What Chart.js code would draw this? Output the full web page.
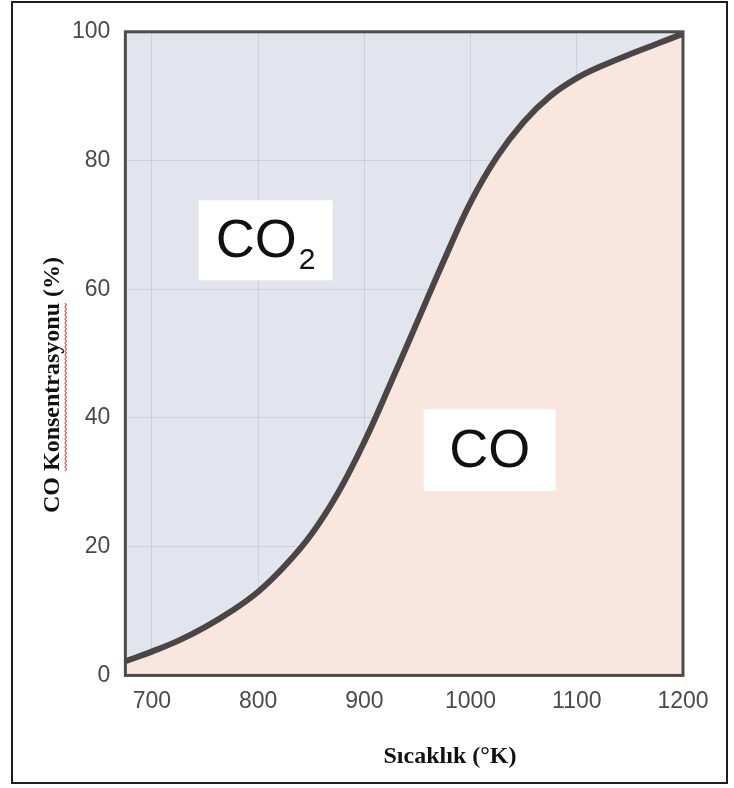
<!DOCTYPE html>
<html>
<head>
<meta charset="utf-8">
<script src="https://cdn.jsdelivr.net/npm/chart.js@4.4.1/dist/chart.umd.min.js"></script>
<style>
    body { margin: 0; background: #fff; }
    #frame {
        position: absolute; left: 11px; top: 1px;
        width: 713px; height: 779px;
        border: 2px solid #1e1e1e;
    }
    #frame canvas { display: block; }
</style>
</head>
<body>
<div id="frame"><canvas id="chart" width="713" height="779"></canvas></div>
<script>
// sıcaklık (K) ve CO konsantrasyonu (%)
const temps = [675, 700, 725, 750, 775, 800, 825, 850, 875, 900, 925, 950, 975, 1000, 1025, 1050, 1075, 1100, 1125, 1150, 1175, 1200];
const coValues = [2.2, 3.7, 5.4, 7.5, 10.0, 13.0, 17.0, 21.9, 28.3, 36.3, 45.5, 55.0, 64.5, 73.5, 80.6, 86.0, 90.0, 92.8, 94.8, 96.5, 98.1, 99.7];
const xTicks = [700, 800, 900, 1000, 1100, 1200];
const yTicks = [0, 20, 40, 60, 80, 100];

// bölge etiketleri (veri koordinatlarında)
const regionLabels = [
    { main: 'CO', sub: '2', x: 807, y: 67.6, w: 134, h: 80 },
    { main: 'CO', sub: '', x: 1018, y: 35, w: 132, h: 82 },
];

const xTitle = 'Sıcaklık (°K)';
const yTitle = 'CO Konsentrasyonu (%)';

const TICK_FONT = "'Liberation Sans', Arial, sans-serif";
const TITLE_FONT = "'Liberation Serif', 'Times New Roman', serif";

// ── çizim alanı arka planı ve çerçeve ──
const areaPlugin = {
    id: 'areaPlugin',
    beforeDraw(chart) {
        const { ctx, chartArea: a } = chart;
        ctx.save();
        ctx.fillStyle = '#e2e5ee';
        ctx.fillRect(a.left, a.top, a.right - a.left, a.bottom - a.top);
        ctx.restore();
    },
    afterDraw(chart) {
        const { ctx, chartArea: a, scales } = chart;
        ctx.save();
        // çerçeve
        ctx.strokeStyle = '#4d4a4a';
        ctx.lineWidth = 3;
        ctx.strokeRect(a.left, a.top, a.right - a.left, a.bottom - a.top);

        // CO2 / CO kutuları
        regionLabels.forEach(l => {
            const cx = scales.x.getPixelForValue(l.x);
            const cy = scales.y.getPixelForValue(l.y);
            ctx.fillStyle = '#ffffff';
            ctx.fillRect(cx - l.w / 2, cy - l.h / 2, l.w, l.h);
            ctx.fillStyle = '#111';
            ctx.textBaseline = 'middle';
            ctx.font = "54px " + TICK_FONT;
            const mw = ctx.measureText(l.main).width;
            ctx.font = "30px " + TICK_FONT;
            const sw = l.sub ? ctx.measureText(l.sub).width + 2 : 0;
            const x0 = cx - (mw + sw) / 2;
            ctx.font = "54px " + TICK_FONT;
            ctx.textAlign = 'left';
            ctx.fillText(l.main, x0, cy + 2);
            if (l.sub) {
                ctx.font = "30px " + TICK_FONT;
                ctx.fillText(l.sub, x0 + mw + 2, cy + 20);
            }
        });

        // eksen başlıkları
        ctx.fillStyle = '#111';
        ctx.font = "bold 24px " + TITLE_FONT;
        ctx.textAlign = 'center';
        ctx.textBaseline = 'middle';
        ctx.fillText(xTitle, 437, 754);

        ctx.translate(40, 382);
        ctx.rotate(-Math.PI / 2);
        ctx.fillText(yTitle, 0, 0);
        // yazım denetimi alt çizgisi
        const full = ctx.measureText(yTitle).width;
        const pre = ctx.measureText('CO ').width;
        const word = ctx.measureText('Konsentrasyonu').width;
        const sx = -full / 2 + pre;
        ctx.strokeStyle = '#e0505a';
        ctx.lineWidth = 1.2;
        ctx.beginPath();
        for (let i = 0; i <= word; i += 2) {
            const yy = 12 + (i % 4 === 0 ? 0 : 1.5);
            if (i === 0) ctx.moveTo(sx + i, yy); else ctx.lineTo(sx + i, yy);
        }
        ctx.stroke();
        ctx.restore();
    },
};

new Chart(document.getElementById('chart'), {
    type: 'line',
    data: {
        labels: temps,
        datasets: [{
            data: temps.map((t, i) => ({ x: t, y: coValues[i] })),
            borderColor: '#4b4545',
            borderWidth: 6,
            pointRadius: 0,
            tension: 0.4,
            fill: 'origin',
            backgroundColor: '#f9e6df',
        }],
    },
    options: {
        responsive: false,
        animation: false,
        layout: { padding: { left: 44, right: 43, top: 26, bottom: 55 } },
        plugins: { legend: { display: false }, tooltip: { enabled: false } },
        scales: {
            x: {
                type: 'linear',
                min: 675,
                max: 1200,
                afterBuildTicks: s => { s.ticks = xTicks.map(v => ({ value: v })); },
                grid: { color: 'rgba(170,170,185,0.35)', drawTicks: false },
                border: { display: false },
                ticks: {
                    padding: 12,
                    color: '#4a4a4a',
                    font: { family: TICK_FONT, size: 23 },
                    callback: v => String(v),
                },
            },
            y: {
                min: 0,
                max: 100,
                afterBuildTicks: s => { s.ticks = yTicks.map(v => ({ value: v })); },
                grid: { color: 'rgba(170,170,185,0.35)', drawTicks: false },
                border: { display: false },
                ticks: {
                    padding: 15,
                    color: '#4a4a4a',
                    font: { family: TICK_FONT, size: 23 },
                    callback: v => String(v),
                },
            },
        },
    },
    plugins: [areaPlugin],
});
</script>
</body>
</html>
